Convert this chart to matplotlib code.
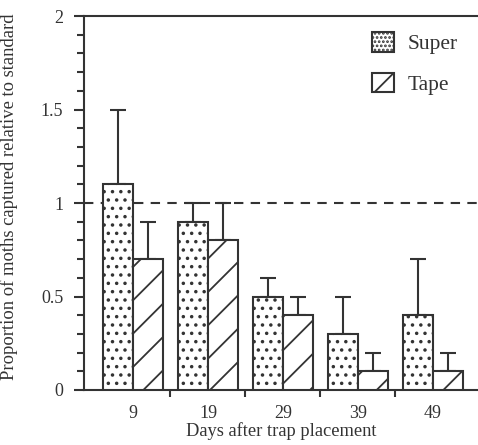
import matplotlib
matplotlib.use("Agg")
import matplotlib.pyplot as plt
import matplotlib.patches as mpatches
import numpy as np

days = ["9", "19", "29", "39", "49"]
super_vals = [1.1, 0.9, 0.5, 0.3, 0.4]
super_err = [0.4, 0.1, 0.1, 0.2, 0.3]
tape_vals = [0.7, 0.8, 0.4, 0.1, 0.1]
tape_err = [0.2, 0.2, 0.1, 0.1, 0.1]

ink = "#333333"
plt.rcParams["font.family"] = ["Liberation Serif", "DejaVu Serif"]
plt.rcParams["hatch.color"] = ink
plt.rcParams["hatch.linewidth"] = 1.3

fig = plt.figure(figsize=(4.78, 4.45), dpi=100)
ax = fig.add_axes([84 / 478, 1 - 390 / 445, 1 - 84 / 478, 374 / 445])

x = np.arange(len(days))
w = 0.4

# reference line at 1
ax.axhline(1.0, color=ink, lw=1.5, dashes=(4.5, 3.5), zorder=1)

ax.bar(x - w / 2, super_vals, w, facecolor="white", edgecolor=ink,
       linewidth=1.5, hatch="..", zorder=3)
ax.bar(x + w / 2, tape_vals, w, facecolor="white", edgecolor=ink,
       linewidth=1.5, hatch="/", zorder=3)

# upper error bars only
ax.errorbar(x - w / 2, super_vals, yerr=[np.zeros(5), super_err], fmt="none",
            ecolor=ink, elinewidth=1.5, capsize=5.5, capthick=1.5, zorder=2)
ax.errorbar(x + w / 2, tape_vals, yerr=[np.zeros(5), tape_err], fmt="none",
            ecolor=ink, elinewidth=1.5, capsize=5.5, capthick=1.5, zorder=2)

ax.set_xlim(-0.653, 4.6)
ax.set_ylim(0, 2)

ax.spines["right"].set_visible(False)
for s in ["left", "top", "bottom"]:
    ax.spines[s].set_color(ink)
    ax.spines[s].set_linewidth(1.5)

ax.set_yticks([0, 0.5, 1, 1.5, 2])
ax.set_yticklabels(["0", "0.5", "1", "1.5", "2"])
ax.set_yticks(np.arange(0, 2.01, 0.1), minor=True)
ax.tick_params(axis="y", which="major", length=7, width=1.5, color=ink,
               labelsize=13, pad=8, labelcolor=ink)
ax.tick_params(axis="y", which="minor", length=5, width=1.5, color=ink)

ax.set_xticks(x)
ax.set_xticklabels(days)
ax.set_xticks(x[:-1] + 0.5, minor=True)
ax.tick_params(axis="x", which="major", length=0, labelsize=13, pad=11,
               labelcolor=ink)
ax.tick_params(axis="x", which="minor", length=5, width=1.5, color=ink)

ax.set_ylabel("Proportion of moths captured relative to standard",
              fontsize=13.4, color=ink)
ax.yaxis.set_label_coords(-0.1675, 0.516)
ax.set_xlabel("Days after trap placement", fontsize=13.3, color=ink)
ax.xaxis.set_label_coords(0.5, -0.086)

handles = [
    mpatches.Patch(facecolor="white", edgecolor=ink, linewidth=1.5,
                   hatch="....", label="Super"),
    mpatches.Patch(facecolor="white", edgecolor=ink, linewidth=1.5,
                   hatch="/", label="Tape"),
]
ax.legend(handles=handles, loc="upper left", bbox_to_anchor=(0.704, 0.985),
          frameon=False, fontsize=15.5, handlelength=1.0, handleheight=1.0,
          labelspacing=0.85, handletextpad=0.65, borderpad=0, labelcolor=ink)

fig.savefig("out.png", dpi=100)
